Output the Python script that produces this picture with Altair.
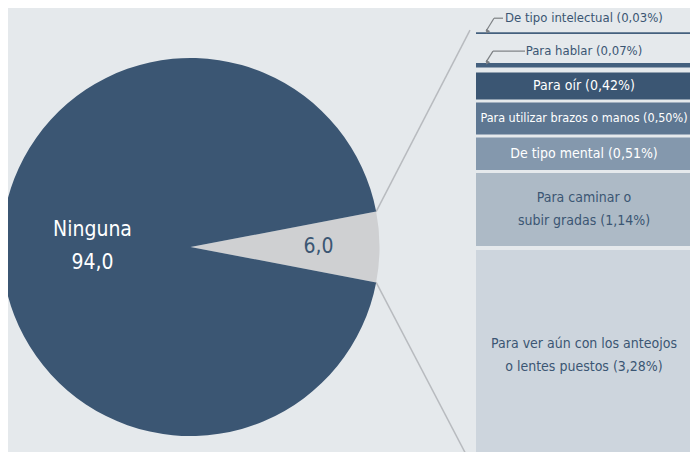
import math
import altair as alt
import pandas as pd

# ---------------- data ----------------
PIE_CATEGORIES = ["Con alguna limitación", "Ninguna"]
PIE_VALUES = [6.0, 94.0]
PIE_TEXTS = ["6,0", "Ninguna\n94,0"]

BAR_CATEGORIES = [
    "Para ver aún con los anteojos o lentes puestos",
    "Para caminar o subir gradas",
    "De tipo mental",
    "Para utilizar brazos o manos",
    "Para oír",
    "Para hablar",
    "De tipo intelectual",
]
BAR_VALUES = [3.28, 1.14, 0.51, 0.50, 0.42, 0.07, 0.03]
BAR_LABELS = [
    "Para ver aún con los anteojos\no lentes puestos (3,28%)",
    "Para caminar o\nsubir gradas (1,14%)",
    "De tipo mental (0,51%)",
    "Para utilizar brazos o manos (0,50%)",
    "Para oír (0,42%)",
    "Para hablar (0,07%)",
    "De tipo intelectual (0,03%)",
]

# ---------------- style / layout ----------------
W, H = 682, 444
BOTTOM_OVERFLOW = 8  # bar continues below the visible area
BG = "#e5e9ec"
DARK = "#3b5673"
GRAY = "#cfd0d2"
ARROW_COL = "#7d8084"
FONT = "DejaVu Sans Condensed, Liberation Sans Narrow, sans-serif"
BAR_COLORS = ["#cdd5dd", "#adbac6", "#8498ad", "#5e7792", "#3b5673", "#44607e", "#44607e"]
WHITE_TEXT = ["De tipo mental", "Para utilizar brazos o manos", "Para oír"]
SMALL_TEXT = ["Para utilizar brazos o manos"]
THIN = ["Para hablar", "De tipo intelectual"]
PX_PER_PCT = 64.0
GAPS_PX = [4, 3, 3, 3, 5, 29]
LABEL_OFFSET_PX = {"Para hablar": 12, "De tipo intelectual": 14}
ARROWS = {  # tip x ; elbow offset from tip ; horizontal length
    "Para hablar": dict(tip_x=478, dx=7, dy=12, hlen=32),
    "De tipo intelectual": dict(tip_x=478, dx=8, dy=14, hlen=9),
}
BAR_X0, BAR_X1 = 468, 700
LABEL_X = 576
CX, CY, R = 182.5, 239, 189
LINE_H = 23

# ---------------- pie ----------------
pie_df = pd.DataFrame({
    "cat": PIE_CATEGORIES,
    "value": PIE_VALUES,
    "txt": PIE_TEXTS,
    "ord": list(range(len(PIE_VALUES))),
})
share = PIE_VALUES[0] / sum(PIE_VALUES)
a0 = math.pi / 2 - math.pi * share
theta = alt.Theta("value:Q", stack=True, scale=alt.Scale(range=[a0, a0 + 2 * math.pi]))

pie_base = alt.Chart(pie_df).encode(
    theta=theta,
    order=alt.Order("ord:Q"),
    x=alt.value(CX),
    y=alt.value(CY),
)
arc = pie_base.mark_arc(outerRadius=R).encode(
    color=alt.Color("cat:N", scale=alt.Scale(domain=PIE_CATEGORIES, range=[GRAY, DARK]), legend=None)
)
pie_txt_main = pie_base.mark_text(
    radius=98, font=FONT, fontSize=21, color="white", lineBreak="\n", lineHeight=33,
    align="center", baseline="middle", dy=-17,
).encode(text=alt.condition(alt.datum.cat == "Ninguna", "txt:N", alt.value("")))
pie_txt_small = pie_base.mark_text(
    radius=128, font=FONT, fontSize=21, color=DARK, align="center", baseline="middle",
).encode(text=alt.condition(alt.datum.cat != "Ninguna", "txt:N", alt.value("")))

# ---------------- stacked bar ----------------
rows = []
pos = 0.0
for i, (c, v, lab) in enumerate(zip(BAR_CATEGORIES, BAR_VALUES, BAR_LABELS)):
    if i > 0:
        pos += GAPS_PX[i - 1] / PX_PER_PCT
    y0, y1 = pos, pos + v
    pos = y1
    ty = y1 + LABEL_OFFSET_PX[c] / PX_PER_PCT if c in THIN else (y0 + y1) / 2
    rows.append(dict(seg=c, value=v, y0=y0, y1=y1, ty=ty, label=lab,
                     nlines=lab.count("\n") + 1))
bar_df = pd.DataFrame(rows)

d0 = BOTTOM_OVERFLOW / PX_PER_PCT
yscale = alt.Scale(domain=[d0, d0 + H / PX_PER_PCT], nice=False, zero=False)
bars = alt.Chart(bar_df).mark_rect().encode(
    x=alt.value(BAR_X0), x2=alt.value(BAR_X1),
    y=alt.Y("y0:Q", scale=yscale, axis=None), y2="y1:Q",
    color=alt.Color("seg:N", scale=alt.Scale(domain=BAR_CATEGORIES, range=BAR_COLORS), legend=None),
)
text_enc = dict(
    x=alt.value(LABEL_X),
    y=alt.Y("ty:Q", scale=yscale, axis=None),
    text="label:N",
)


def bar_text(pred, color, size, dy):
    return alt.Chart(bar_df).transform_filter(pred).mark_text(
        font=FONT, fontSize=size, color=color, lineBreak="\n", lineHeight=LINE_H,
        align="center", baseline="middle", dy=dy,
    ).encode(**text_enc)


is_white = alt.FieldOneOfPredicate(field="seg", oneOf=WHITE_TEXT)
is_small = alt.FieldOneOfPredicate(field="seg", oneOf=SMALL_TEXT)
is_thin = alt.FieldOneOfPredicate(field="seg", oneOf=THIN)
is_multi = alt.FieldRangePredicate(field="nlines", range=[2, None])
bar_txt_white = bar_text({"and": [is_white, {"not": is_small}]}, "white", 14, 0)
bar_txt_white_small = bar_text(is_small, "white", 12.5, 0)
bar_txt_dark = bar_text({"and": [{"not": is_white}, {"not": is_multi}, {"not": is_thin}]}, DARK, 14, 0)
bar_txt_thin = bar_text(is_thin, DARK, 13, 0)
bar_txt_dark_multi = bar_text({"and": [{"not": is_white}, is_multi]}, DARK, 14, -LINE_H / 2)

# ---------------- arrows for thin segments ----------------
arrow_layers = []
for c in THIN:
    a = ARROWS[c]
    seg = bar_df[bar_df.seg == c].iloc[0]
    tip_y = seg.y1 + 1 / PX_PER_PCT
    elbow_y = seg.y1 + a["dy"] / PX_PER_PCT
    d = pd.DataFrame({"ya": [tip_y], "yb": [elbow_y]})
    ex = a["tip_x"] + a["dx"]
    diag = alt.Chart(d).mark_rule(color=ARROW_COL, strokeWidth=1.2).encode(
        x=alt.value(a["tip_x"]), x2=alt.value(ex),
        y=alt.Y("ya:Q", scale=yscale, axis=None), y2="yb:Q",
    )
    horiz = alt.Chart(d).mark_rule(color=ARROW_COL, strokeWidth=1.2).encode(
        x=alt.value(ex), x2=alt.value(ex + a["hlen"]),
        y=alt.Y("yb:Q", scale=yscale, axis=None),
    )
    ang = 180 + math.degrees(math.atan2(a["dx"], a["dy"]))
    head = alt.Chart(d).mark_point(shape="triangle", filled=True, size=22, color=ARROW_COL,
                                   angle=ang, opacity=1).encode(
        x=alt.value(a["tip_x"] + 1.5),
        y=alt.Y("ya:Q", scale=yscale, axis=None),
    )
    arrow_layers += [diag, horiz, head]

# ---------------- connector lines ----------------
ang_half = math.pi * share
ex_ = CX + R * math.cos(ang_half)
ey_top = CY - R * math.sin(ang_half)
ey_bot = CY + R * math.sin(ang_half)
bar_top_px = H + BOTTOM_OVERFLOW - pos * PX_PER_PCT
one = pd.DataFrame({"k": [0]})
conn_top = alt.Chart(one).mark_rule(color="#b8bbbf", strokeWidth=1.5).encode(
    x=alt.value(ex_), x2=alt.value(BAR_X0 - 6), y=alt.value(ey_top), y2=alt.value(bar_top_px - 2))
conn_bot = alt.Chart(one).mark_rule(color="#b8bbbf", strokeWidth=1.5).encode(
    x=alt.value(ex_), x2=alt.value(BAR_X0 - 6), y=alt.value(ey_bot), y2=alt.value(H + BOTTOM_OVERFLOW + 2))

chart = alt.layer(
    conn_top, conn_bot, arc, pie_txt_main, pie_txt_small,
    bars, bar_txt_white, bar_txt_white_small, bar_txt_dark, bar_txt_thin, bar_txt_dark_multi,
    *arrow_layers,
).resolve_scale(color="independent").properties(
    width=W, height=H, background=BG, padding=0,
    autosize=alt.AutoSizeParams(type="none"),
).configure_view(stroke=None)

chart.save("out.html", embed_options={"renderer": "svg", "actions": False})
